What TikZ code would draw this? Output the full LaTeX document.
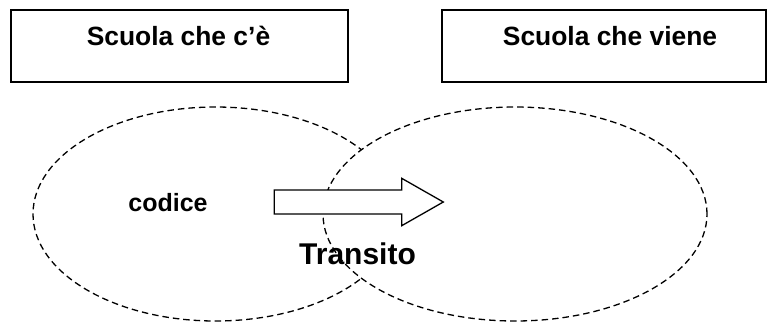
\documentclass[tikz,border=0pt]{standalone}
\usepackage{fontspec}
\setmainfont{Liberation Sans}
\usetikzlibrary{shapes.geometric}
\tikzset{
  titlebox/.style={draw, line width=1.6pt, minimum height=72pt, inner sep=0pt},
  zone/.style={ellipse, draw, dash pattern=on 6.5pt off 4pt, line width=1.3pt, minimum height=214pt, inner sep=0pt},
  titletext/.style={anchor=base, inner sep=0pt, font=\fontsize{26.4}{30}\selectfont\bfseries},
  bigarrow/.style={draw, line width=1.3pt, fill=white, line join=miter}
}
\begin{document}
\begin{tikzpicture}[x=1pt,y=-1pt]
\useasboundingbox (0,0) rectangle (768,325);
% title boxes
\node[titlebox, minimum width=337pt] (b1) at (179.5,46) {};
\node[titlebox, minimum width=324pt] (b2) at (604,46) {};
\node[titletext] (t1) at (178.5,45) {Scuola che c’è};
\node[titletext] (t2) at (610,45) {Scuola che viene};
% ellipses
\node[zone, minimum width=365pt] (L) at (215.5,214) {};
\node[zone, minimum width=384pt, fill=white] (R) at (515,214) {};
% block arrow
\draw[bigarrow] (274.3,190) -- (401.7,190) -- (401.7,178.3) -- (443.3,202) -- (401.7,225.7) -- (401.7,214) -- (274.3,214) -- cycle;
% texts
\node[anchor=base, inner sep=0pt, font=\fontsize{25}{28}\selectfont\bfseries] (cod) at (168,211) {codice};
\node[anchor=base, inner sep=0pt, font=\fontsize{30}{34}\selectfont\bfseries] (tr) at (357.5,264) {Transito};
\end{tikzpicture}
\end{document}
